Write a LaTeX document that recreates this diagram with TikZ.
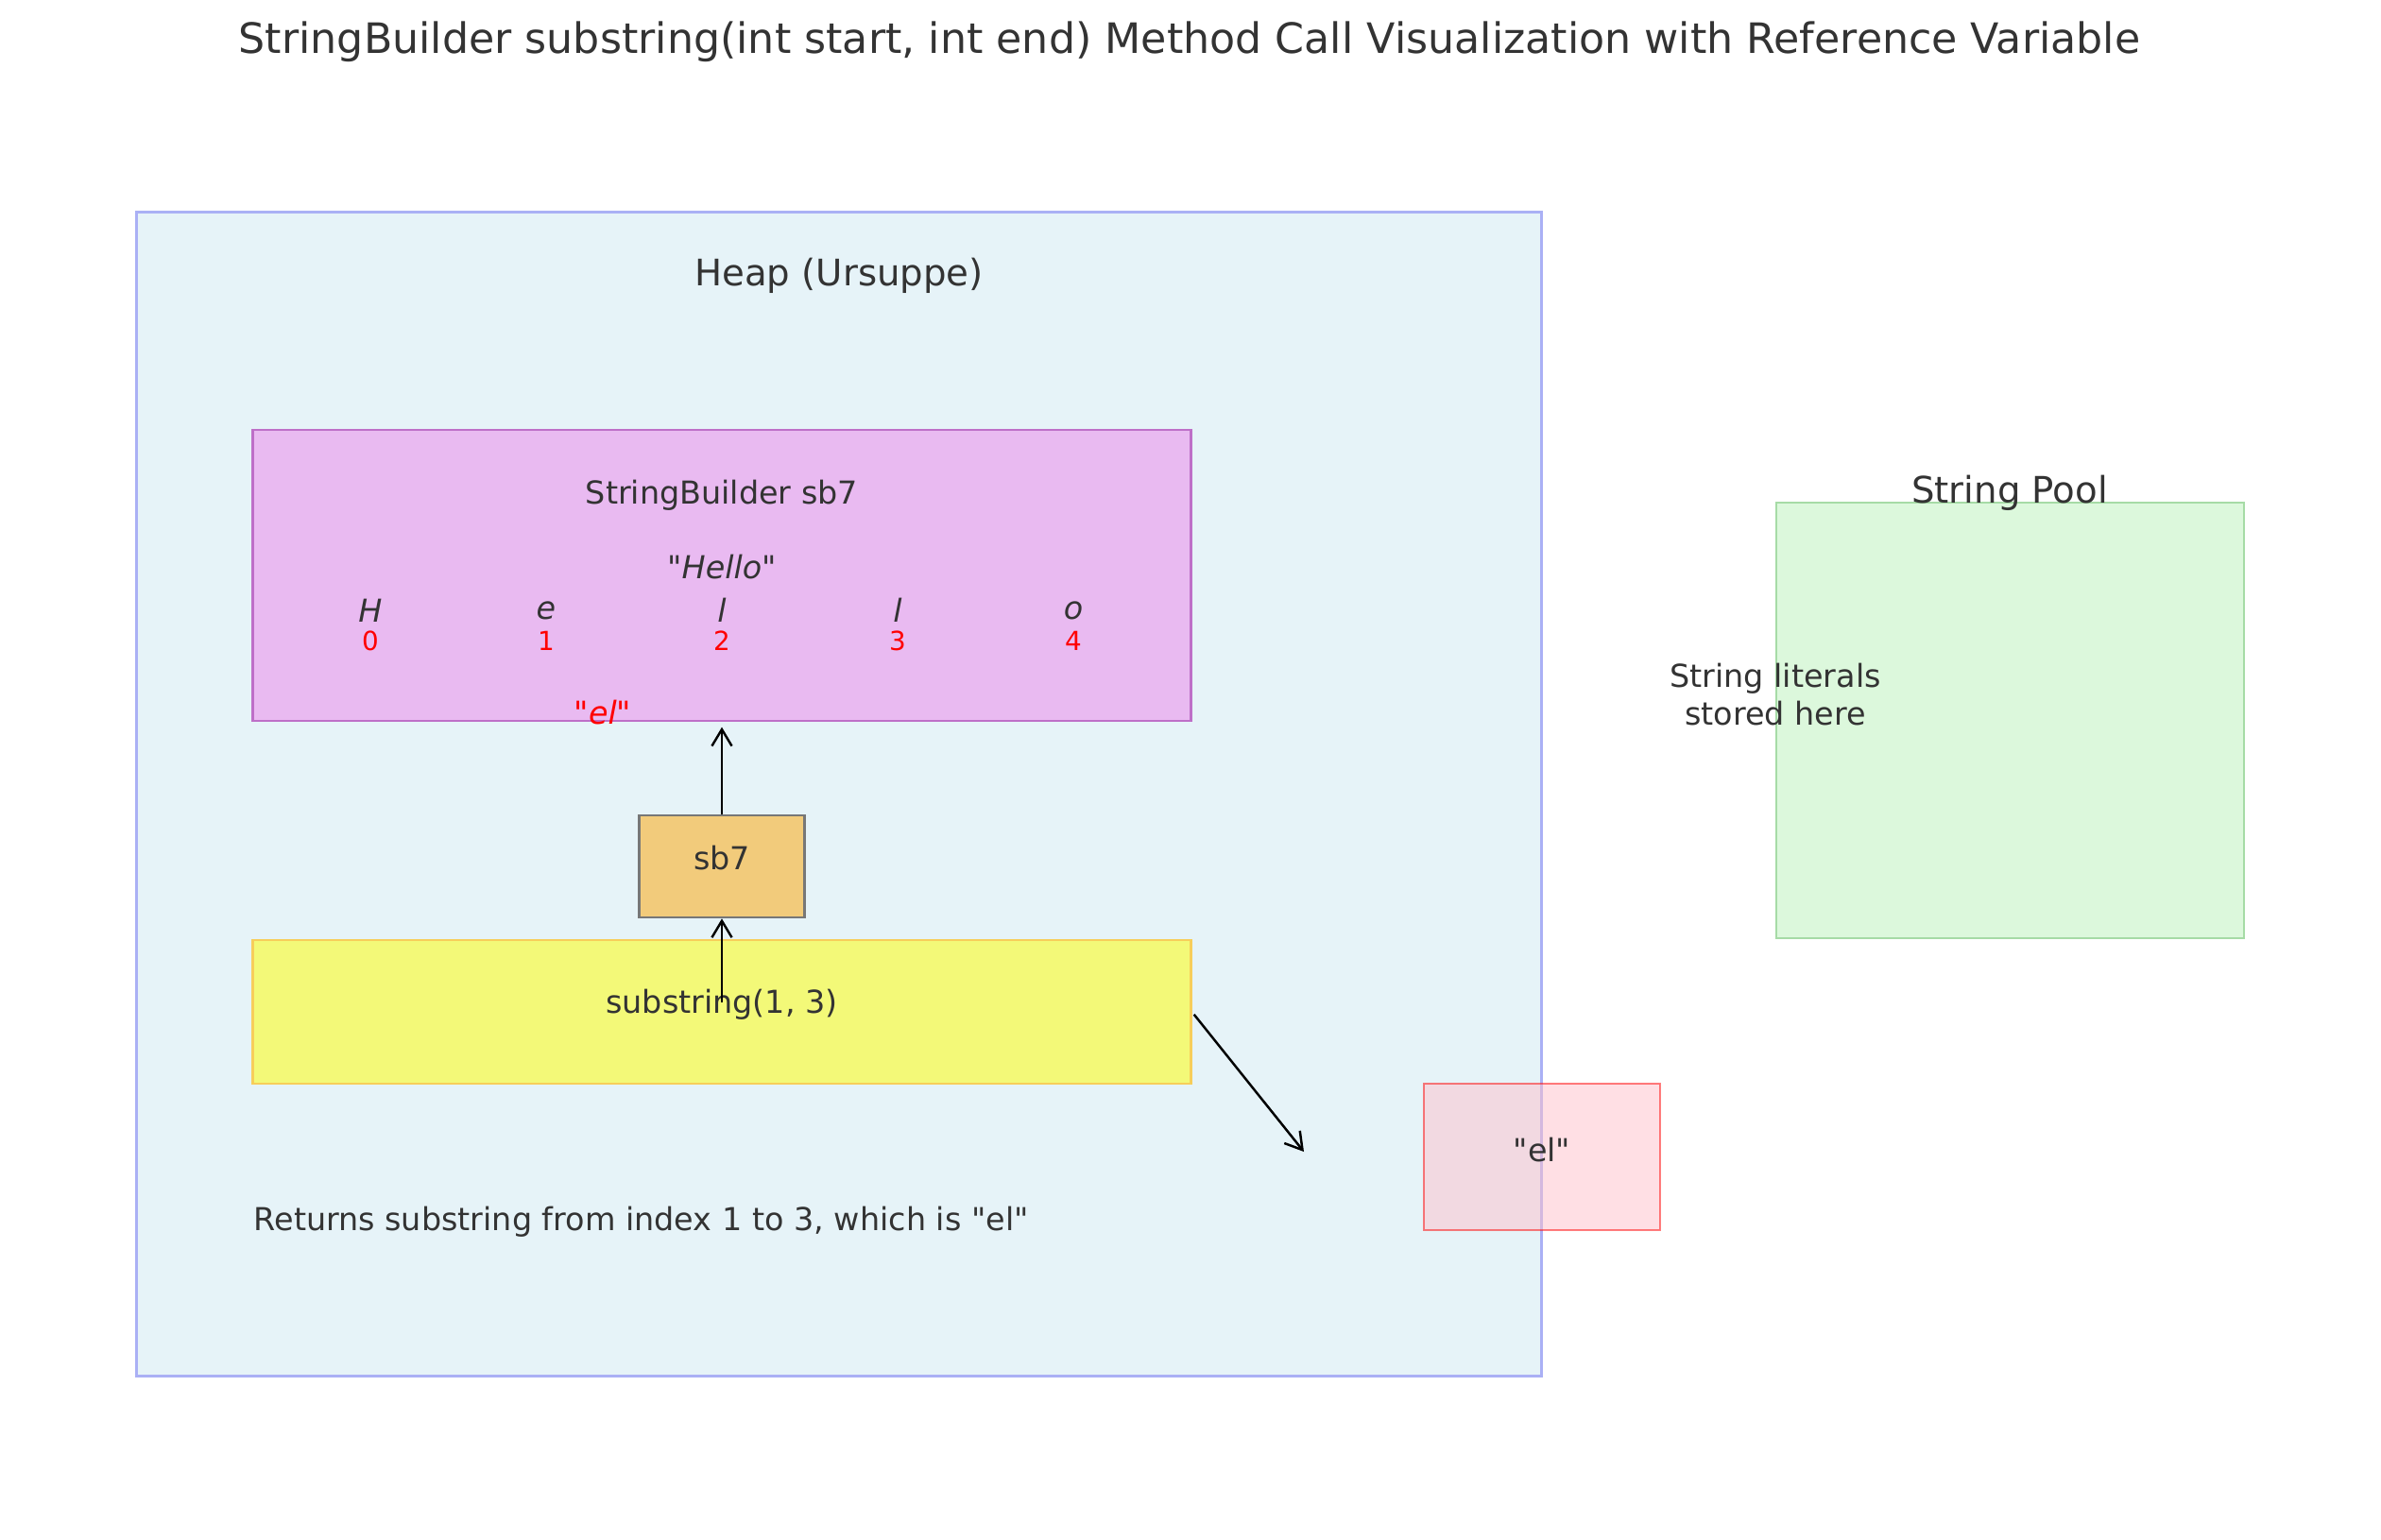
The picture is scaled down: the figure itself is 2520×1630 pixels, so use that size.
\documentclass[tikz,border=0pt]{standalone}
\usepackage{fontspec}
\setmainfont{DejaVu Sans}[Ligatures=TeXOff]
\usetikzlibrary{arrows.meta}
\definecolor{txt}{HTML}{333333}
\definecolor{heapfill}{HTML}{E6F3F8}
\definecolor{heapedge}{HTML}{AAB0F5}
\definecolor{sbfill}{HTML}{E9BAF1}
\definecolor{sbedge}{HTML}{BE6FC8}
\definecolor{reffill}{HTML}{F2CB7B}
\definecolor{refedge}{HTML}{777777}
\definecolor{callfill}{HTML}{F3F978}
\definecolor{calledge}{HTML}{F7CE5A}
\definecolor{poolfill}{HTML}{DCF8DC}
\definecolor{pooledge}{HTML}{A6DBA6}
\definecolor{resfill}{HTML}{FFC0CB}
\definecolor{resedge}{HTML}{FF0000}
\definecolor{idxred}{HTML}{FF0000}
\begin{document}
\begin{tikzpicture}[x=0.01cm,y=-0.01cm,
  box/.style={rectangle,inner sep=0pt,line width=0.7pt},
  body/.style={text=txt,font=\fontsize{9.5}{11.5}\selectfont,inner sep=0pt},
  big/.style={text=txt,font=\fontsize{11}{13}\selectfont,inner sep=0pt},
  idx/.style={text=idxred,font=\fontsize{7.9}{9}\selectfont,inner sep=0pt},
  chr/.style={text=txt,font=\fontsize{9.5}{11.5}\selectfont\itshape,inner sep=0pt},
  arr/.style={line width=0.7pt,-{Straight Barb[length=5pt,width=6pt]}}]
\useasboundingbox (0,0) rectangle (2520,1630);
\fill[white] (0,0) rectangle (2520,1630);
% title
\node[text=txt,font=\fontsize{12.6}{15}\selectfont,inner sep=0pt] (title) at (1259,44) {StringBuilder substring(int start, int end) Method Call Visualization with Reference Variable};
% heap
\node[box,draw=heapedge,fill=heapfill,minimum width=14.86cm,minimum height=12.31cm] (heap) at (888,840.5) {};
\node[big] (heaplbl) at (888,292) {Heap (Ursuppe)};
% string builder object
\node[box,draw=sbedge,fill=sbfill,minimum width=9.92cm,minimum height=3.08cm] (sb) at (764,609) {};
\node[body] (sbname) at (764,524) {StringBuilder sb7};
\node[chr] (hello) at (764,600) {{\upshape"}Hello{\upshape"}};
\node[chr] (c0) at (392,646) {H};
\node[chr] (c1) at (578,646) {e};
\node[chr] (c2) at (764,646) {l};
\node[chr] (c3) at (950,646) {l};
\node[chr] (c4) at (1136,646) {o};
\node[idx] (i0) at (392,678) {0};
\node[idx] (i1) at (578,678) {1};
\node[idx] (i2) at (764,678) {2};
\node[idx] (i3) at (950,678) {3};
\node[idx] (i4) at (1136,678) {4};
\node[chr,text=idxred] (elmark) at (638,754) {{\upshape"}el{\upshape"}};
% reference variable
\node[box,draw=refedge,fill=reffill,minimum width=1.75cm,minimum height=1.08cm] (ref) at (764,917) {};
\node[body] (reflbl) at (764,908) {sb7};
% method call
\node[box,draw=calledge,fill=callfill,minimum width=9.92cm,minimum height=1.52cm] (call) at (764,1071) {};
\node[body] (calllbl) at (764,1063) {substring(1, 3)};
% string pool
\node[box,draw=pooledge,fill=poolfill,minimum width=4.95cm,minimum height=4.61cm] (pool) at (2127.5,762.5) {};
\node[big] (poollbl) at (2127,522) {String Pool};
\node[body,align=center] (poolnote) at (1879,735) {String literals\\stored here};
% result
\node[box,draw=resedge,draw opacity=0.5,fill=resfill,fill opacity=0.5,minimum width=2.5cm,minimum height=1.55cm] (res) at (1632,1224.5) {};
\node[body] (reslbl) at (1632,1217) {"el"};
\node[body,anchor=west] (note) at (268,1293) {Returns substring from index 1 to 3, which is "el"};
% connectors
\coordinate (callsrc) at (764,1061);
\coordinate (diagend) at (1380,1219);
\draw[arr,shorten >=1.5pt] (ref.north) -- (sb.south);
\draw[arr] (callsrc) -- (ref.south);
\draw[arr,shorten <=1pt] (call.east) -- (diagend);
\end{tikzpicture}
\end{document}
